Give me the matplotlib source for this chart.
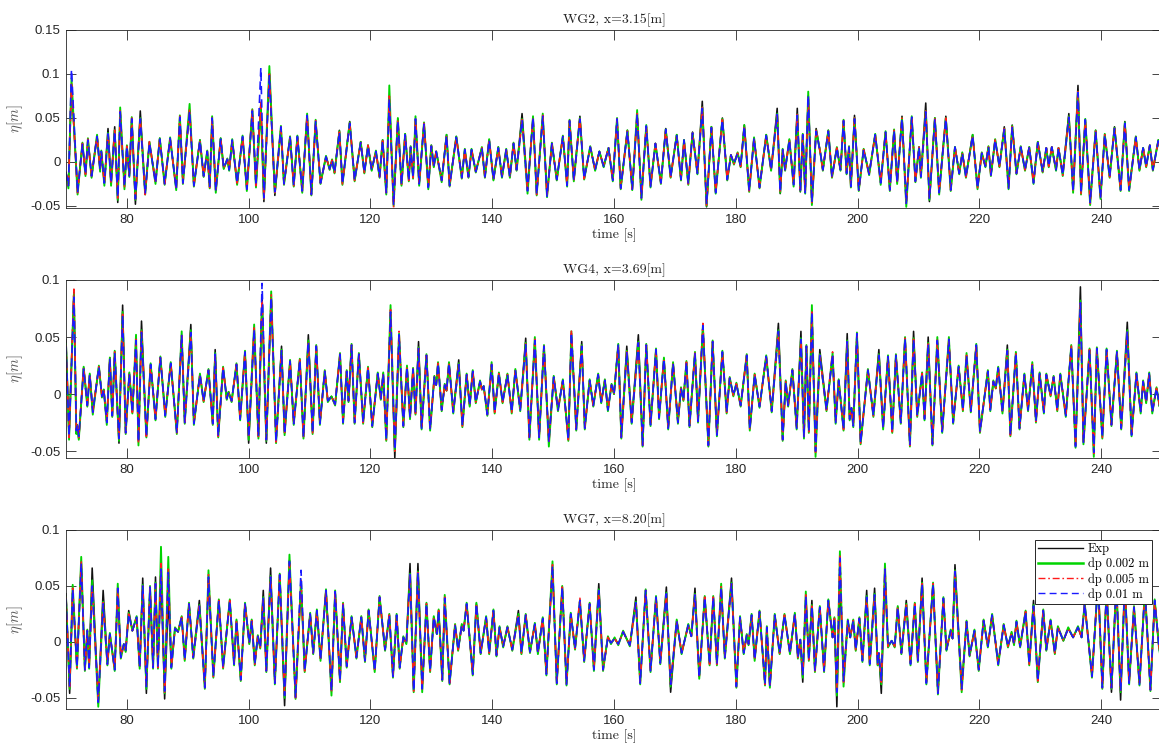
import numpy as np
import matplotlib
matplotlib.use("Agg")
import matplotlib.pyplot as plt

plt.rcParams['mathtext.fontset'] = 'cm'
plt.rcParams['axes.unicode_minus'] = False

# ---------------- data (wave elevation extrema, in mm; time in s) ----------------
titles = ['WG2, x=3.15[m]', 'WG4, x=3.69[m]', 'WG7, x=8.20[m]']
series_labels = ['Exp', 'dp 0.002 m', 'dp 0.005 m', 'dp 0.01 m']
xticks = [80, 100, 120, 140, 160, 180, 200, 220, 240]
xtick_labels = ['80', '100', '120', '140', '160', '180', '200', '220', '240']
yticks_1 = [-0.05, 0, 0.05, 0.1, 0.15]
ytick_labels_1 = ['-0.05', '0', '0.05', '0.1', '0.15']
yticks_23 = [-0.05, 0, 0.05, 0.1]
ytick_labels_23 = ['-0.05', '0', '0.05', '0.1']
ylims = [(-0.0523, 0.15), (-0.056, 0.1), (-0.06, 0.1)]

# --- WG2 ---
t1 = [70.0, 70.4, 70.9, 71.9, 72.7, 73.2, 73.6, 74.2, 75.1, 75.6,
      75.8, 76.3, 76.9, 77.4, 78.0, 78.5, 78.9, 79.6, 80.0, 80.4,
      80.8, 81.4, 82.2, 83.0, 83.7, 84.7, 85.4, 86.2, 87.1, 88.1,
      88.7, 89.2, 90.3, 91.0, 92.0, 92.6, 93.2, 93.6, 94.0, 94.6,
      95.4, 95.9, 96.5, 96.8, 97.3, 98.1, 99.0, 99.7, 100.6, 101.2,
      102.0, 102.5, 103.4, 104.3, 105.3, 105.8, 106.8, 107.4, 108.0, 108.8,
      109.6, 110.3, 111.0, 111.8, 112.7, 113.3, 113.7, 114.1, 114.9, 115.4,
      116.6, 117.4, 118.4, 119.0, 119.6, 120.2, 120.9, 121.5, 122.0, 122.6,
      123.1, 123.8, 124.5, 125.1, 125.7, 126.3, 126.6, 127.0, 127.4, 128.0,
      128.8, 129.5, 130.0, 130.4, 130.8, 131.7, 132.5, 133.0, 134.1, 135.0,
      135.5, 136.1, 136.6, 137.3, 138.3, 138.8, 139.5, 140.2, 141.0, 141.6,
      142.3, 142.9, 143.5, 144.0, 144.9, 145.8, 146.7, 147.3, 148.3, 149.0,
      149.8, 150.6, 151.6, 152.3, 152.7, 153.4, 154.4, 155.1, 156.1, 156.9,
      157.6, 158.3, 159.1, 159.8, 160.5, 161.1, 162.2, 163.0, 163.8, 164.5,
      165.3, 166.0, 166.8, 167.7, 168.5, 169.3, 170.3, 171.0, 171.5, 172.2,
      172.9, 173.7, 174.5, 175.2, 176.0, 176.7, 177.8, 178.6, 179.2, 179.7,
      180.3, 180.8, 181.4, 182.2, 183.0, 183.9, 185.0, 185.8, 186.8, 187.3,
      187.7, 188.1, 188.8, 189.5, 190.1, 190.6, 191.0, 191.4, 191.9, 192.5,
      193.2, 193.9, 194.3, 195.2, 195.8, 196.6, 197.2, 197.7, 198.2, 198.6,
      198.9, 199.5, 200.2, 201.0, 201.9, 202.9, 203.8, 204.6, 205.3, 206.0,
      206.5, 207.3, 208.0, 208.9, 209.5, 210.1, 210.4, 211.2, 211.8, 212.7,
      213.4, 214.5, 215.3, 216.0, 216.7, 217.2, 217.8, 218.9, 219.7, 220.4,
      221.0, 221.5, 221.9, 222.6, 223.3, 224.1, 224.8, 225.4, 226.1, 226.8,
      227.5, 228.2, 228.9, 229.6, 230.4, 231.0, 231.4, 231.9, 232.6, 233.0,
      233.7, 234.7, 235.4, 236.2, 236.7, 237.4, 238.2, 239.1, 239.9, 240.6,
      241.4, 242.2, 243.2, 243.9, 244.6, 245.7, 246.3, 246.9, 247.4, 248.0,
      248.5, 249.4, 250.0]
exp1 = [-12, -27, 88, -33, 21, -14, 25, -16, 29, -9,
        12, -24, 38, -24, 40, -46, 55, -27, 18, -15,
        49, -48, 58, -35, 22, -22, 27, -24, 26, -30,
        50, -22, 58, -26, 25, -16, 12, -28, 48, -32,
        27, -7, 3, -9, 24, -24, 28, -30, 57, -26,
        66, -45, 101, -38, 38, -25, 29, -27, 29, -32,
        52, -36, 45, -24, 6, -8, 2, -12, 36, -24,
        46, -20, 23, -12, 19, -9, 12, -16, 25, -35,
        70, -45, 49, -25, 32, -20, 17, -17, 46, -24,
        44, -28, 19, -5, 12, -20, 31, -26, 29, -17,
        14, -17, 14, -11, 16, -17, 25, -20, 17, -17,
        14, -17, 21, -9, 55, -30, 50, -35, 50, -37,
        21, -20, 29, -26, 46, -20, 52, -19, 17, -9,
        12, -5, 16, -20, 48, -29, 36, -30, 52, -39,
        40, -27, 21, -23, 38, -17, 31, -20, 25, -24,
        34, -13, 69, -51, 40, -34, 50, -20, 8, -2,
        10, -5, 42, -32, 27, -28, 31, -9, 61, -36,
        14, -9, 25, -24, 61, -34, 31, -34, 75, -47,
        38, 10, -9, 36, -17, 16, -9, 46, -13, 17,
        -28, 53, -32, 14, -13, 31, -22, 34, -30, 36,
        -23, 52, -45, 50, -21, 17, -16, 67, -45, 50,
        -33, 52, -30, 17, -13, 10, -16, 31, -28, 10,
        -5, 17, -15, 25, -5, 40, -28, 42, -13, 17,
        -9, 17, -22, 23, -11, 16, -5, 17, -9, 16,
        -13, 55, -32, 87, -34, 48, -44, 36, -39, 31,
        -16, 40, -30, 46, -30, 29, -9, 16, -5, 19,
        -9, 25, 5]
g1 = [-14, -30, 95, -37, 22, -16, 27, -18, 31, -11,
      13, -27, 33, -27, 36, -43, 62, -31, 19, -17,
      51, -43, 50, -37, 23, -25, 27, -26, 28, -32,
      53, -25, 66, -28, 25, -17, 13, -30, 52, -35,
      27, -8, 4, -10, 26, -26, 30, -33, 60, -29,
      62, -42, 109, -35, 41, -26, 29, -28, 30, -35,
      55, -38, 48, -25, 7, -9, 3, -13, 35, -26,
      45, -22, 23, -13, 19, -10, 13, -18, 25, -37,
      87, -50, 50, -27, 32, -22, 18, -19, 52, -27,
      45, -31, 19, -6, 12, -23, 31, -28, 29, -19,
      15, -18, 15, -12, 17, -18, 26, -21, 17, -18,
      15, -18, 22, -10, 49, -36, 52, -38, 55, -40,
      22, -21, 30, -28, 48, -22, 50, -20, 18, -10,
      12, -6, 16, -22, 50, -31, 36, -32, 59, -43,
      42, -29, 21, -25, 37, -18, 31, -21, 25, -26,
      33, -14, 62, -50, 40, -36, 49, -21, 8, -3,
      11, -6, 42, -34, 28, -30, 31, -10, 55, -35,
      15, -10, 26, -28, 54, -33, 32, -36, 80, -49,
      36, 10, -10, 36, -18, 17, -10, 48, -14, 18,
      -29, 50, -33, 15, -15, 32, -26, 35, -33, 37,
      -25, 50, -51, 52, -23, 17, -18, 58, -43, 50,
      -37, 50, -33, 17, -14, 11, -18, 31, -31, 11,
      -6, 18, -16, 26, -6, 38, -31, 41, -14, 18,
      -10, 17, -25, 23, -12, 16, -6, 17, -10, 16,
      -16, 52, -35, 80, -37, 49, -49, 36, -42, 32,
      -18, 39, -33, 45, -33, 29, -10, 16, -6, 19,
      -10, 25, 4]
r1 = [-12, -28, 90, -35, 21, -14, 26, -16, 30, -9,
      12, -25, 33, -25, 36, -41, 58, -29, 18, -16,
      50, -42, 50, -37, 23, -24, 26, -25, 27, -31,
      52, -24, 60, -27, 24, -16, 12, -29, 51, -33,
      26, -7, 3, -9, 25, -24, 29, -31, 59, -27,
      68, -42, 100, -35, 40, -25, 28, -27, 29, -33,
      54, -37, 47, -24, 6, -8, 2, -12, 34, -25,
      44, -21, 22, -12, 19, -9, 12, -17, 24, -35,
      75, -52, 48, -26, 31, -21, 17, -18, 50, -25,
      44, -29, 18, -5, 12, -21, 30, -27, 28, -18,
      14, -17, 14, -11, 16, -17, 25, -20, 16, -17,
      14, -17, 21, -9, 48, -33, 51, -37, 53, -39,
      21, -20, 29, -27, 47, -21, 50, -19, 17, -9,
      12, -5, 16, -21, 49, -30, 35, -31, 56, -41,
      41, -28, 21, -24, 37, -17, 30, -20, 25, -25,
      33, -13, 62, -49, 39, -35, 48, -20, 8, -2,
      10, -5, 41, -33, 27, -29, 30, -9, 55, -34,
      14, -9, 25, -26, 54, -32, 31, -35, 74, -47,
      36, 10, -9, 35, -17, 16, -9, 47, -13, 17,
      -28, 50, -32, 14, -14, 31, -24, 34, -32, 36,
      -24, 50, -48, 51, -22, 17, -17, 58, -42, 49,
      -35, 50, -32, 17, -13, 10, -17, 30, -30, 10,
      -5, 17, -15, 25, -5, 38, -30, 40, -13, 17,
      -9, 17, -24, 22, -11, 16, -5, 17, -9, 16,
      -15, 51, -34, 80, -36, 48, -47, 35, -41, 31,
      -17, 38, -32, 44, -32, 28, -9, 16, -5, 19,
      -9, 24, 5]
b1 = [-12, -27, 105, -35, 20, -14, 25, -16, 29, -9,
      12, -24, 32, -24, 35, -40, 57, -28, 18, -16,
      49, -42, 49, -36, 22, -24, 26, -25, 27, -31,
      51, -24, 58, -27, 24, -16, 12, -29, 50, -33,
      26, -7, 3, -9, 25, -24, 29, -31, 58, -27,
      107, -41, 98, -34, 40, -25, 28, -27, 29, -33,
      53, -37, 46, -24, 6, -8, 2, -12, 34, -25,
      44, -21, 22, -12, 18, -9, 12, -17, 24, -35,
      72, -48, 47, -26, 31, -21, 17, -18, 49, -25,
      43, -29, 18, -5, 12, -21, 30, -27, 28, -18,
      14, -17, 14, -11, 16, -17, 25, -20, 16, -17,
      14, -17, 21, -9, 48, -33, 51, -37, 52, -39,
      21, -20, 29, -27, 47, -21, 49, -19, 17, -9,
      12, -5, 16, -21, 49, -30, 35, -31, 55, -41,
      41, -28, 21, -24, 37, -17, 30, -20, 25, -25,
      33, -13, 61, -48, 39, -35, 48, -20, 8, -2,
      10, -5, 41, -33, 27, -29, 30, -9, 54, -34,
      14, -9, 25, -26, 53, -32, 31, -35, 76, -46,
      35, 10, -9, 35, -17, 16, -9, 47, -13, 17,
      -28, 49, -32, 14, -14, 31, -24, 34, -32, 36,
      -24, 49, -47, 51, -22, 17, -17, 57, -42, 49,
      -35, 49, -32, 17, -13, 10, -17, 30, -30, 10,
      -5, 17, -15, 25, -5, 37, -30, 40, -13, 17,
      -9, 17, -24, 22, -11, 16, -5, 17, -9, 16,
      -15, 51, -34, 79, -36, 48, -46, 35, -41, 31,
      -17, 38, -32, 44, -32, 28, -9, 16, -5, 19,
      -9, 24, 5]

# --- WG4 ---
t2 = [70.0, 70.5, 71.3, 71.7, 71.85, 72.1, 72.9, 73.5, 73.9, 74.4,
      75.4, 75.9, 76.2, 76.7, 77.2, 77.6, 78.0, 78.7, 79.3, 79.8,
      80.4, 80.9, 81.5, 81.9, 82.4, 83.2, 83.9, 84.7, 85.5, 86.3,
      87.2, 88.2, 89.0, 89.5, 90.5, 91.0, 92.0, 92.6, 93.4, 94.1,
      94.5, 95.0, 95.8, 96.4, 96.7, 97.2, 98.0, 98.6, 99.4, 100.0,
      100.9, 101.6, 102.2, 102.9, 103.7, 104.5, 105.4, 105.9, 106.8, 107.4,
      108.4, 109.0, 109.8, 110.5, 111.1, 111.7, 112.5, 113.0, 113.6, 114.2,
      115.0, 115.5, 116.1, 116.4, 116.9, 117.4, 118.1, 118.8, 119.6, 120.3,
      121.2, 121.7, 122.1, 122.6, 123.3, 124.0, 124.7, 125.4, 126.0, 126.5,
      127.0, 127.4, 127.9, 128.4, 129.2, 129.8, 130.5, 130.8, 131.1, 131.7,
      132.2, 132.5, 132.9, 133.6, 134.5, 135.1, 135.8, 136.3, 136.8, 137.3,
      138.0, 138.3, 138.6, 139.2, 139.9, 140.4, 141.1, 141.7, 142.5, 143.2,
      143.8, 144.6, 145.5, 146.1, 147.0, 147.7, 148.5, 149.3, 150.1, 150.8,
      151.6, 152.5, 153.0, 153.8, 154.7, 155.2, 156.0, 156.6, 157.4, 157.9,
      158.5, 159.0, 159.6, 160.0, 160.7, 161.2, 162.1, 162.9, 164.0, 164.7,
      165.3, 166.0, 166.9, 167.4, 168.2, 168.9, 169.7, 170.5, 171.0, 171.4,
      171.9, 172.4, 173.3, 173.8, 174.6, 175.5, 176.2, 176.9, 177.8, 178.5,
      179.0, 179.6, 180.1, 180.8, 181.8, 182.3, 183.1, 183.9, 185.0, 185.9,
      187.0, 187.7, 188.2, 188.6, 189.3, 190.0, 190.7, 191.2, 191.6, 192.0,
      192.5, 193.1, 193.8, 194.9, 195.9, 196.4, 196.9, 197.7, 198.3, 198.7,
      199.0, 199.3, 199.9, 200.5, 201.7, 202.6, 203.5, 204.2, 205.0, 205.7,
      206.3, 207.1, 207.8, 208.6, 209.2, 209.8, 210.6, 211.0, 211.6, 212.3,
      213.1, 213.9, 215.0, 215.7, 216.6, 217.3, 217.9, 218.6, 219.5, 220.1,
      221.4, 221.8, 222.3, 222.7, 223.1, 223.8, 224.6, 225.1, 226.0, 226.6,
      227.4, 228.0, 228.7, 229.3, 229.9, 230.6, 231.0, 231.7, 232.2, 232.8,
      233.3, 234.2, 235.1, 235.8, 236.6, 237.1, 238.1, 238.8, 239.3, 240.2,
      240.9, 241.7, 242.6, 243.3, 244.3, 245.0, 245.8, 246.5, 246.9, 247.4,
      247.9, 248.4, 249.1, 249.6, 250.0]
exp2 = [48, -37, 90, -33, -27, -39, 23, -9, 17, -15,
        24, -2, 4, -24, 32, -18, 37, -43, 78, -33,
        18, -15, 45, -40, 64, -36, 26, -21, 32, -18,
        27, -33, 50, -24, 61, -25, 17, -6, 21, -25,
        39, -36, 23, -4, 2, -6, 26, -21, 37, -43,
        55, -37, 85, -43, 85, -40, 42, -34, 29, -25,
        30, -37, 52, -33, 42, -25, 20, -6, -2, -9,
        35, -24, 20, -6, 43, -24, 35, -24, 23, -27,
        18, -4, 18, -39, 70, -56, 50, -27, 24, -20,
        22, -16, 46, -29, 34, -30, 15, 8, 27, -13,
        8, 3, 27, -15, 30, -27, 17, -10, 20, -7,
        11, 4, 7, -17, 24, -15, 18, -7, 17, -15,
        21, -13, 49, -37, 45, -37, 42, -40, 15, -13,
        12, -39, 50, -30, 46, -29, 12, -10, 17, -7,
        12, -13, 8, 0, 43, -37, 42, -24, 52, -44,
        43, -26, 39, -20, 31, -29, 27, -24, 5, -5,
        28, -27, 36, -23, 58, -44, 46, -35, 37, -15,
        14, -1, 9, -10, 34, -30, 17, -11, 33, -14,
        62, -39, 11, -10, 21, -29, 55, -37, 42, -32,
        70, -48, 39, -13, 33, -24, 12, -30, 53, -21,
        -12, -27, 53, -42, 21, -18, 39, -29, 33, -32,
        34, -24, 49, -44, 55, -18, 18, -21, 50, -43,
        45, -32, 46, -24, 24, -13, 32, -14, 43, -32,
        20, -13, 11, 5, 23, -15, 43, -35, 36, -29,
        17, -13, 24, -23, 18, -15, 17, -1, 15, -13,
        17, -18, 42, -45, 94, -42, 39, -48, 40, -37,
        39, -26, 37, -29, 63, -35, 18, -15, 11, -7,
        18, -15, 5, -10, 0]
g2 = [44, -40, 88, -35, -28, -40, 24, -11, 18, -18,
      25, -3, 4, -27, 32, -20, 38, -41, 72, -35,
      19, -17, 52, -45, 56, -38, 27, -23, 33, -20,
      28, -35, 55, -26, 56, -27, 18, -7, 22, -27,
      36, -38, 24, -5, 2, -7, 27, -23, 38, -40,
      61, -39, 80, -41, 90, -43, 39, -36, 30, -27,
      31, -39, 47, -35, 43, -27, 21, -7, -2, -10,
      36, -26, 21, -7, 44, -26, 36, -26, 24, -29,
      19, -5, 19, -41, 78, -50, 53, -29, 25, -22,
      23, -18, 41, -31, 35, -32, 16, 8, 28, -15,
      9, 3, 28, -17, 27, -29, 18, -11, 21, -8,
      12, 4, 7, -19, 28, -17, 19, -8, 18, -17,
      22, -15, 45, -40, 50, -40, 43, -46, 16, -15,
      13, -41, 55, -32, 43, -31, 13, -11, 18, -8,
      13, -15, 9, 0, 44, -39, 38, -26, 46, -46,
      44, -28, 40, -22, 32, -31, 28, -26, 6, -6,
      29, -29, 37, -25, 60, -46, 47, -37, 38, -17,
      15, -2, 10, -11, 35, -32, 18, -12, 34, -16,
      56, -41, 12, -11, 22, -31, 49, -39, 43, -34,
      78, -55, 35, -15, 36, -26, 13, -32, 47, -23,
      -13, -29, 54, -44, 22, -20, 35, -31, 34, -34,
      35, -26, 50, -46, 49, -20, 19, -23, 45, -45,
      50, -34, 50, -26, 25, -15, 36, -16, 44, -34,
      21, -15, 12, 5, 24, -17, 39, -37, 37, -31,
      18, -15, 28, -25, 19, -17, 18, -2, 16, -15,
      18, -20, 43, -47, 82, -44, 40, -55, 41, -39,
      40, -28, 38, -31, 56, -37, 19, -17, 12, -8,
      19, -17, 6, -11, 0]
r2 = [43, -38, 92, -33, -27, -38, 23, -10, 17, -16,
      24, -2, 4, -25, 31, -19, 37, -40, 70, -34,
      18, -16, 48, -43, 55, -37, 26, -22, 32, -19,
      27, -34, 53, -25, 55, -26, 17, -6, 21, -26,
      35, -37, 23, -4, 2, -6, 26, -22, 37, -38,
      58, -38, 85, -40, 87, -42, 38, -35, 29, -26,
      30, -38, 46, -34, 42, -26, 20, -6, -2, -9,
      35, -25, 20, -6, 43, -25, 35, -25, 23, -28,
      18, -4, 18, -40, 74, -50, 55, -28, 24, -21,
      22, -17, 40, -30, 34, -31, 15, 8, 27, -14,
      8, 3, 27, -16, 26, -28, 17, -10, 20, -7,
      11, 4, 7, -18, 26, -16, 18, -7, 17, -16,
      21, -14, 44, -38, 48, -38, 42, -43, 15, -14,
      12, -40, 56, -31, 42, -30, 12, -10, 17, -7,
      12, -14, 8, 0, 43, -38, 37, -25, 45, -45,
      43, -27, 39, -21, 31, -30, 27, -25, 5, -5,
      28, -28, 36, -24, 62, -45, 46, -36, 37, -16,
      14, -1, 9, -10, 34, -31, 17, -11, 33, -15,
      55, -40, 11, -10, 21, -30, 48, -38, 42, -33,
      72, -51, 34, -14, 37, -25, 12, -31, 46, -22,
      -12, -28, 53, -43, 21, -19, 34, -30, 33, -33,
      34, -25, 49, -45, 48, -19, 18, -22, 44, -44,
      48, -33, 48, -25, 24, -14, 34, -15, 43, -33,
      20, -14, 11, 5, 23, -16, 38, -36, 36, -30,
      17, -14, 26, -24, 18, -16, 17, -1, 15, -14,
      17, -19, 42, -46, 80, -43, 39, -52, 40, -38,
      39, -27, 37, -30, 55, -36, 18, -16, 11, -7,
      18, -16, 5, -10, 0]
b2 = [42, -37, 85, -32, -27, -37, 22, -10, 17, -16,
      24, -2, 4, -25, 31, -19, 36, -39, 69, -34,
      18, -16, 47, -42, 54, -37, 26, -22, 32, -19,
      27, -34, 52, -25, 54, -26, 17, -6, 21, -26,
      35, -37, 23, -4, 2, -6, 26, -22, 37, -38,
      57, -37, 97, -40, 85, -42, 38, -35, 29, -26,
      30, -38, 46, -34, 42, -26, 20, -6, -2, -9,
      35, -25, 20, -6, 43, -25, 35, -25, 23, -28,
      18, -4, 18, -40, 72, -49, 52, -28, 24, -21,
      22, -17, 40, -30, 34, -31, 15, 8, 27, -14,
      8, 3, 27, -16, 26, -28, 17, -10, 20, -7,
      11, 4, 7, -18, 26, -16, 18, -7, 17, -16,
      21, -14, 44, -38, 47, -38, 42, -42, 15, -14,
      12, -40, 54, -31, 42, -30, 12, -10, 17, -7,
      12, -14, 8, 0, 43, -38, 37, -25, 45, -45,
      43, -27, 39, -21, 31, -30, 27, -25, 5, -5,
      28, -28, 36, -24, 60, -45, 46, -36, 37, -16,
      14, -1, 9, -10, 34, -31, 17, -11, 33, -15,
      55, -40, 11, -10, 21, -30, 48, -38, 42, -33,
      72, -50, 34, -14, 35, -25, 12, -31, 46, -22,
      -12, -28, 53, -43, 21, -19, 34, -30, 33, -33,
      34, -25, 49, -45, 48, -19, 18, -22, 44, -44,
      47, -33, 48, -25, 24, -14, 34, -15, 43, -33,
      20, -14, 11, 5, 23, -16, 38, -36, 36, -30,
      17, -14, 26, -24, 18, -16, 17, -1, 15, -14,
      17, -19, 42, -46, 80, -43, 39, -51, 40, -38,
      39, -27, 37, -30, 55, -36, 18, -16, 11, -7,
      18, -16, 5, -10, 0]

# --- WG7 ---
t3 = [70.0, 70.6, 71.1, 71.8, 72.5, 73.1, 73.5, 73.8, 74.3, 75.3,
      76.1, 76.8, 77.2, 78.0, 78.5, 79.0, 79.5, 79.8, 80.3, 80.9,
      81.6, 82.1, 82.6, 83.2, 83.8, 84.3, 84.7, 85.1, 85.6, 86.2,
      86.8, 87.3, 87.9, 88.4, 89.0, 89.5, 90.2, 90.9, 91.9, 92.8,
      93.4, 94.2, 95.1, 95.8, 96.9, 97.6, 98.0, 98.7, 99.4, 100.1,
      100.5, 101.0, 101.5, 101.9, 102.4, 102.9, 103.6, 104.3, 105.1, 105.9,
      106.7, 107.7, 108.6, 109.2, 110.1, 110.6, 111.2, 111.8, 112.7, 113.6,
      114.2, 115.0, 115.5, 116.1, 116.9, 117.7, 118.5, 119.1, 119.7, 120.7,
      121.5, 122.4, 123.1, 123.7, 124.3, 124.8, 125.4, 125.9, 126.5, 127.1,
      127.8, 128.5, 129.2, 129.8, 130.4, 130.9, 131.2, 131.8, 132.2, 133.0,
      133.9, 134.4, 135.0, 135.3, 135.8, 136.8, 137.4, 138.1, 139.0, 139.5,
      140.2, 140.7, 141.2, 141.8, 142.5, 143.3, 144.3, 144.8, 145.5, 146.2,
      147.0, 147.5, 148.3, 148.9, 149.9, 150.6, 151.5, 152.2, 152.9, 153.6,
      154.4, 155.1, 156.0, 156.7, 157.5, 158.2, 159.0, 159.5, 160.1, 160.7,
      161.5, 162.6, 163.6, 164.3, 165.2, 166.0, 166.9, 167.6, 168.6, 169.3,
      170.3, 171.1, 172.2, 172.7, 173.3, 174.0, 174.9, 175.7, 176.3, 176.9,
      177.6, 178.2, 179.3, 180.1, 180.7, 181.3, 181.8, 182.1, 182.6, 183.1,
      183.9, 184.8, 185.1, 185.6, 186.4, 187.2, 188.0, 188.9, 189.7, 190.2,
      190.6, 191.0, 191.5, 192.0, 192.5, 193.0, 193.8, 194.5, 195.2, 195.9,
      196.2, 196.6, 197.1, 197.7, 198.4, 198.8, 199.3, 199.7, 200.3, 200.8,
      201.5, 202.0, 202.8, 203.3, 203.5, 203.9, 204.5, 205.0, 205.6, 206.1,
      206.6, 207.2, 208.0, 208.7, 209.4, 209.9, 210.6, 211.3, 212.4, 213.2,
      214.1, 214.6, 215.3, 215.6, 216.0, 217.1, 217.9, 218.4, 219.2, 219.9,
      220.7, 221.4, 222.1, 223.1, 224.0, 224.7, 225.3, 225.7, 226.1, 226.7,
      227.6, 228.2, 228.9, 229.6, 230.5, 231.0, 231.7, 232.4, 232.9, 233.8,
      234.6, 235.4, 236.2, 236.8, 237.3, 238.5, 239.5, 240.2, 240.9, 241.7,
      242.5, 243.2, 243.9, 244.6, 245.4, 246.3, 247.2, 248.1, 248.8, 249.5,
      250.0]
exp3 = [43, -46, 45, -22, 70, -24, 10, -22, 66, -55,
        46, -19, 7, -24, 45, -13, -2, -8, 28, 10,
        22, -22, 57, -46, 49, -22, 58, -22, 60, -51,
        40, -22, 12, 9, 22, -15, 34, -13, 37, -40,
        55, -30, 37, -22, 37, -19, 19, -33, 34, -1,
        19, -19, 5, -5, 46, -25, 66, -36, 60, -57,
        73, -49, 52, -25, 25, -10, 28, -15, 46, -42,
        45, -34, 34, -21, 22, -13, 22, -16, 28, -25,
        40, -7, 24, -30, 24, -22, 4, -1, 70, -43,
        70, -40, 34, -25, 22, 7, 28, -33, 36, -36,
        15, -7, 15, 10, 34, -28, 34, -10, 22, -10,
        28, -12, 13, -4, 13, -7, 28, -10, 24, -9,
        16, -10, 21, -28, 65, -36, 49, -37, 25, -6,
        35, -16, 34, -24, 52, -24, 4, -1, 3, -2,
        9, -3, 40, -36, 46, -25, 40, -18, 49, -45,
        19, -10, 15, 5, 48, -31, 40, -19, 40, -19,
        46, -13, 57, -39, 22, -10, 6, -2, 24, -15,
        27, -37, 13, -39, 24, -10, 24, -10, 25, -13,
        2, -36, 38, -15, 37, -25, 31, -25, 37, 4,
        21, -58, 55, -30, 19, 4, 19, -7, 21, -16,
        46, -19, 48, -19, -10, -46, 58, -4, 1, -4,
        31, -10, 37, -19, 34, -16, 57, -36, 52, -45,
        39, -7, 10, 3, 69, -40, 18, -12, 10, -24,
        19, -4, 24, -19, 15, -4, 8, -2, 18, -4,
        27, -19, 37, -34, 28, -7, 19, -10, 13, 1,
        12, 4, 13, 4, 34, -30, 55, -40, 46, -45,
        52, -52, 52, -36, 31, -37, 46, -42, 37, -4,
        -20]
g3 = [40, -42, 51, -24, 76, -26, 11, -24, 55, -58,
      36, -21, 8, -26, 52, -15, -2, -9, 26, 10,
      23, -24, 51, -42, 50, -24, 53, -24, 85, -46,
      76, -24, 13, 9, 23, -17, 35, -15, 33, -42,
      64, -32, 38, -24, 38, -21, 20, -35, 35, -2,
      20, -21, 6, -6, 40, -27, 59, -38, 61, -50,
      78, -51, 55, -27, 26, -11, 29, -17, 47, -48,
      46, -36, 35, -23, 23, -15, 23, -18, 29, -27,
      41, -8, 25, -32, 25, -24, 5, -2, 61, -45,
      63, -45, 35, -27, 23, 7, 29, -35, 42, -38,
      16, -8, 16, 10, 35, -30, 35, -11, 23, -11,
      29, -13, 14, -5, 14, -8, 25, -11, 25, -10,
      17, -11, 22, -30, 72, -38, 50, -39, 26, -7,
      37, -18, 35, -26, 47, -26, 5, -2, 4, -3,
      10, -4, 36, -38, 47, -27, 41, -20, 44, -40,
      20, -11, 16, 5, 43, -33, 41, -21, 41, -21,
      52, -15, 53, -41, 23, -11, 7, -3, 25, -17,
      28, -39, 14, -41, 25, -11, 25, -11, 26, -15,
      2, -32, 45, -17, 33, -27, 32, -27, 38, 4,
      22, -48, 81, -40, 20, 4, 20, -8, 22, -18,
      41, -21, 43, -21, -11, -38, 70, -5, 1, -5,
      32, -11, 34, -21, 35, -18, 53, -38, 53, -47,
      40, -8, 11, 3, 64, -45, 19, -13, 11, -26,
      20, -5, 25, -21, 16, -5, 9, -3, 19, -5,
      28, -21, 33, -36, 29, -8, 20, -11, 14, 1,
      13, 4, 14, 4, 35, -32, 56, -42, 47, -42,
      53, -45, 53, -38, 32, -39, 47, -44, 38, -5,
      -22]
r3 = [40, -40, 48, -23, 72, -25, 10, -23, 50, -52,
      35, -20, 7, -25, 49, -14, -2, -8, 25, 10,
      22, -23, 50, -40, 49, -23, 52, -23, 70, -45,
      65, -23, 12, 9, 22, -16, 34, -14, 32, -41,
      60, -31, 37, -23, 37, -20, 19, -34, 34, -1,
      19, -20, 5, -5, 39, -26, 58, -37, 60, -48,
      70, -50, 55, -26, 25, -10, 28, -16, 46, -45,
      45, -35, 34, -22, 22, -14, 22, -17, 28, -26,
      40, -7, 24, -31, 24, -23, 4, -1, 60, -44,
      62, -43, 34, -26, 22, 7, 28, -34, 40, -37,
      15, -7, 15, 10, 34, -29, 34, -10, 22, -10,
      28, -12, 13, -4, 13, -7, 24, -10, 24, -9,
      16, -10, 21, -29, 69, -37, 49, -38, 25, -6,
      39, -17, 34, -25, 46, -25, 4, -1, 3, -2,
      9, -3, 35, -37, 46, -26, 40, -19, 43, -38,
      19, -10, 15, 5, 42, -32, 40, -20, 40, -20,
      50, -14, 52, -40, 22, -10, 6, -2, 24, -16,
      27, -38, 13, -40, 24, -10, 24, -10, 25, -14,
      2, -30, 42, -16, 32, -26, 31, -26, 37, 4,
      21, -45, 78, -36, 19, 4, 19, -7, 21, -17,
      40, -20, 42, -20, -10, -36, 66, -4, 1, -4,
      31, -10, 33, -20, 34, -17, 52, -37, 52, -46,
      39, -7, 10, 3, 63, -43, 18, -12, 10, -25,
      19, -4, 24, -20, 15, -4, 8, -2, 18, -4,
      27, -20, 32, -35, 28, -7, 19, -10, 13, 1,
      12, 4, 13, 4, 34, -31, 55, -41, 46, -41,
      52, -44, 52, -37, 31, -38, 46, -43, 37, -4,
      -21]
b3 = [39, -40, 47, -23, 70, -25, 10, -23, 50, -54,
      34, -20, 7, -25, 48, -14, -2, -8, 25, 10,
      22, -23, 50, -40, 49, -23, 52, -23, 65, -44,
      62, -23, 12, 9, 22, -16, 34, -14, 32, -41,
      58, -31, 37, -23, 37, -20, 19, -34, 34, -1,
      19, -20, 5, -5, 39, -26, 58, -37, 60, -48,
      72, -50, 64, -26, 25, -10, 28, -16, 46, -44,
      45, -35, 34, -22, 22, -14, 22, -17, 28, -26,
      40, -7, 24, -31, 24, -23, 4, -1, 60, -44,
      62, -42, 34, -26, 22, 7, 28, -34, 39, -37,
      15, -7, 15, 10, 34, -29, 34, -10, 22, -10,
      28, -12, 13, -4, 13, -7, 24, -10, 24, -9,
      16, -10, 21, -29, 68, -37, 49, -38, 25, -6,
      37, -17, 34, -25, 46, -25, 4, -1, 3, -2,
      9, -3, 35, -37, 46, -26, 40, -19, 43, -38,
      19, -10, 15, 5, 42, -32, 40, -20, 40, -20,
      49, -14, 52, -40, 22, -10, 6, -2, 24, -16,
      27, -38, 13, -40, 24, -10, 24, -10, 25, -14,
      2, -30, 41, -16, 32, -26, 31, -26, 37, 4,
      21, -45, 75, -35, 19, 4, 19, -7, 21, -17,
      40, -20, 42, -20, -10, -35, 65, -4, 1, -4,
      31, -10, 33, -20, 34, -17, 52, -37, 52, -46,
      39, -7, 10, 3, 63, -42, 18, -12, 10, -25,
      19, -4, 24, -20, 15, -4, 8, -2, 18, -4,
      27, -20, 32, -35, 28, -7, 19, -10, 13, 1,
      12, 4, 13, 4, 34, -31, 55, -41, 46, -41,
      52, -44, 52, -37, 31, -38, 46, -43, 37, -4,
      -21]

panels = [
    (t1, [exp1, g1, r1, b1]),
    (t2, [exp2, g2, r2, b2]),
    (t3, [exp3, g3, r3, b3]),
]

# ---------------- styling ----------------
colors = ['#111111', '#00d400', '#ff1a1a', '#1a1aff']
styles = [dict(ls='-'), dict(ls='-'), dict(ls=(0, (5, 2, 1.2, 2))), dict(ls=(0, (5, 3)))]
lws = [1.15, 1.35, 1.2, 1.2]

fig = plt.figure(figsize=(11.59, 7.48), dpi=100)
W, H = 1159.0, 748.0
left_px, right_px = 66, 1162
boxes_px = [(30, 208), (280, 458), (530, 709)]

serif = 'cmr10'
axis_col = '#262626'

for i, ((t, ser), (top, bot)) in enumerate(zip(panels, boxes_px)):
    ax = fig.add_axes([left_px / W, 1 - bot / H, (right_px - left_px) / W, (bot - top) / H])
    t_arr = np.asarray(t, dtype=float)
    lines = []
    for k, vals in enumerate(ser):
        ln, = ax.plot(t_arr, np.asarray(vals, dtype=float) / 1000.0, color=colors[k],
                      lw=lws[k], label=series_labels[k], solid_joinstyle='round',
                      dash_joinstyle='round', **styles[k])
        lines.append(ln)
    ax.set_xlim(70, 250)
    ax.set_ylim(*ylims[i])
    ax.set_xticks(xticks)
    ax.set_xticklabels(xtick_labels)
    if i == 0:
        ax.set_yticks(yticks_1)
        ax.set_yticklabels(ytick_labels_1)
    else:
        ax.set_yticks(yticks_23)
        ax.set_yticklabels(ytick_labels_23)
    ax.tick_params(direction='in', top=True, right=True, length=7, width=0.6,
                   colors=axis_col, labelsize=9.5, pad=4)
    for lab in ax.get_xticklabels() + ax.get_yticklabels():
        lab.set_fontfamily('Liberation Sans')
    for sp in ax.spines.values():
        sp.set_color(axis_col)
        sp.set_linewidth(0.6)
    ax.set_title(titles[i], fontfamily=serif, fontsize=10, color='#222222', pad=5)
    ax.set_xlabel('time [s]', fontfamily=serif, fontsize=10, color='#222222', labelpad=2)
    ax.set_ylabel(r'$\eta[m]$', fontsize=10.5, color='#555555', labelpad=4)
    if i == 2:
        leg = ax.legend(handles=lines, loc='upper right',
                        bbox_to_anchor=(1 - 10 / 1096.0, 1 - 10 / 179.0),
                        prop={'family': serif, 'size': 9}, frameon=True, fancybox=False,
                        framealpha=1, edgecolor='#262626', borderpad=0.25,
                        labelspacing=0.2, handlelength=3.6, handletextpad=0.4,
                        borderaxespad=0)
        leg.get_frame().set_linewidth(0.7)
        for ln in leg.get_lines():
            ln.set_linewidth(1.0)
        leg.get_lines()[1].set_linewidth(1.8)

fig.savefig('out.png', dpi=100, facecolor='white')
